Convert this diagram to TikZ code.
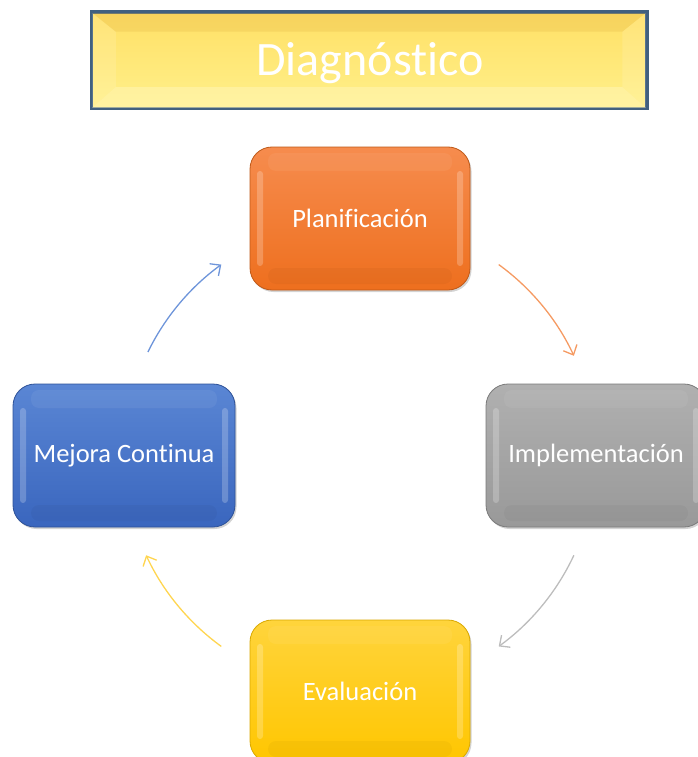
\documentclass[tikz,border=0pt]{standalone}
\usepackage{fontspec}
\setmainfont[Ligatures=NoCommon]{Carlito}
\usetikzlibrary{arrows.meta,shadows}
\definecolor{borderblue}{HTML}{41607F}
\definecolor{ytop}{HTML}{FFE066}
\definecolor{ybot}{HTML}{FFF08A}
\definecolor{otop}{HTML}{F68C4E}
\definecolor{obot}{HTML}{EE6F1E}
\definecolor{gtop}{HTML}{B0B0B0}
\definecolor{gbot}{HTML}{999999}
\definecolor{etop}{HTML}{FFD43C}
\definecolor{ebot}{HTML}{FFC600}
\definecolor{btop}{HTML}{5A86D4}
\definecolor{bbot}{HTML}{3A66BE}
\definecolor{aorange}{HTML}{F59A62}
\definecolor{agray}{HTML}{BDBDBD}
\definecolor{ayellow}{HTML}{FFD54F}
\definecolor{ablue}{HTML}{6E95DA}
\begin{document}
\begin{tikzpicture}[x=1pt,y=1pt,
  stepbox/.style n args={3}{rounded corners=22pt, minimum width=220pt, minimum height=143pt,
    text=white, font=\fontsize{26.5}{30}\selectfont, draw=#3, line width=0.8pt,
    top color=#1, bottom color=#2,
    drop shadow={shadow xshift=1.5pt, shadow yshift=-2pt, opacity=.35},
    path picture={
      \fill[white,opacity=.22,rounded corners=3pt]
        ([xshift=7pt,yshift=-24pt]path picture bounding box.north west) rectangle
        ([xshift=13pt,yshift=24pt]path picture bounding box.south west);
      \fill[white,opacity=.22,rounded corners=3pt]
        ([xshift=-13pt,yshift=-24pt]path picture bounding box.north east) rectangle
        ([xshift=-7pt,yshift=24pt]path picture bounding box.south east);
      \fill[white,opacity=.06,rounded corners=8pt]
        ([xshift=18pt,yshift=-6pt]path picture bounding box.north west) rectangle
        ([xshift=-18pt,yshift=-24pt]path picture bounding box.north east);
      \fill[black,opacity=.03,rounded corners=8pt]
        ([xshift=18pt,yshift=22pt]path picture bounding box.south west) rectangle
        ([xshift=-18pt,yshift=6pt]path picture bounding box.south east);
    }},
  cyc/.style={line width=1.3pt, -{Straight Barb[length=8pt,width=15pt,line width=1.3pt]}}
]
\useasboundingbox (0,0) rectangle (698,-757);

% title
\node[minimum width=554pt, minimum height=95pt, draw=borderblue, line width=2.5pt,
      top color=ytop, bottom color=ybot, inner sep=0pt] (title) at (369,-60.5) {};
\fill[color=ytop!80!orange!90!black, opacity=.3]
  (title.north west) -- (title.north east) -- ([xshift=-25pt,yshift=-20pt]title.north east) -- ([xshift=25pt,yshift=-20pt]title.north west) -- cycle;
\fill[color=ybot!60!white, opacity=.5]
  (title.south west) -- (title.south east) -- ([xshift=-25pt,yshift=22pt]title.south east) -- ([xshift=25pt,yshift=22pt]title.south west) -- cycle;
\fill[color=white, opacity=.12]
  (title.north west) -- ([xshift=25pt,yshift=-20pt]title.north west) -- ([xshift=25pt,yshift=22pt]title.south west) -- (title.south west) -- cycle;
\fill[color=white, opacity=.12]
  (title.north east) -- ([xshift=-25pt,yshift=-20pt]title.north east) -- ([xshift=-25pt,yshift=22pt]title.south east) -- (title.south east) -- cycle;
\draw[borderblue, line width=2.5pt] (title.north west) rectangle (title.south east);
\node[text=white, font=\fontsize{48}{52}\selectfont] (titletext) at (370,-63) {Diagnóstico};

% boxes
\node[stepbox={otop}{obot}{obot!80!black}] (plan) at (360,-218.5) {Planificación};
\node[stepbox={gtop}{gbot}{gbot!80!black}] (impl) at (596,-455.5) {Implementación};
\node[stepbox={etop}{ebot}{ebot!85!black}] (eval) at (360,-691.5) {Evaluación};
\node[stepbox={btop}{bbot}{bbot!80!black}, minimum width=222pt] (mejora) at (124,-455.5) {Mejora Continua};

% cycle arrows (arcs of a circle centred between the boxes)
\coordinate (c) at (360,-455.5);
\draw[cyc, aorange] (c) ++(54:236) coordinate (a1) arc[start angle=54, end angle=25, radius=236];
\draw[cyc, agray] (c) ++(-25:236) coordinate (a2) arc[start angle=-25, end angle=-54, radius=236];
\draw[cyc, ayellow] (c) ++(-126:236) coordinate (a3) arc[start angle=-126, end angle=-155, radius=236];
\draw[cyc, ablue] (c) ++(154:236) coordinate (a4) arc[start angle=154, end angle=126, radius=236];
\end{tikzpicture}
\end{document}
